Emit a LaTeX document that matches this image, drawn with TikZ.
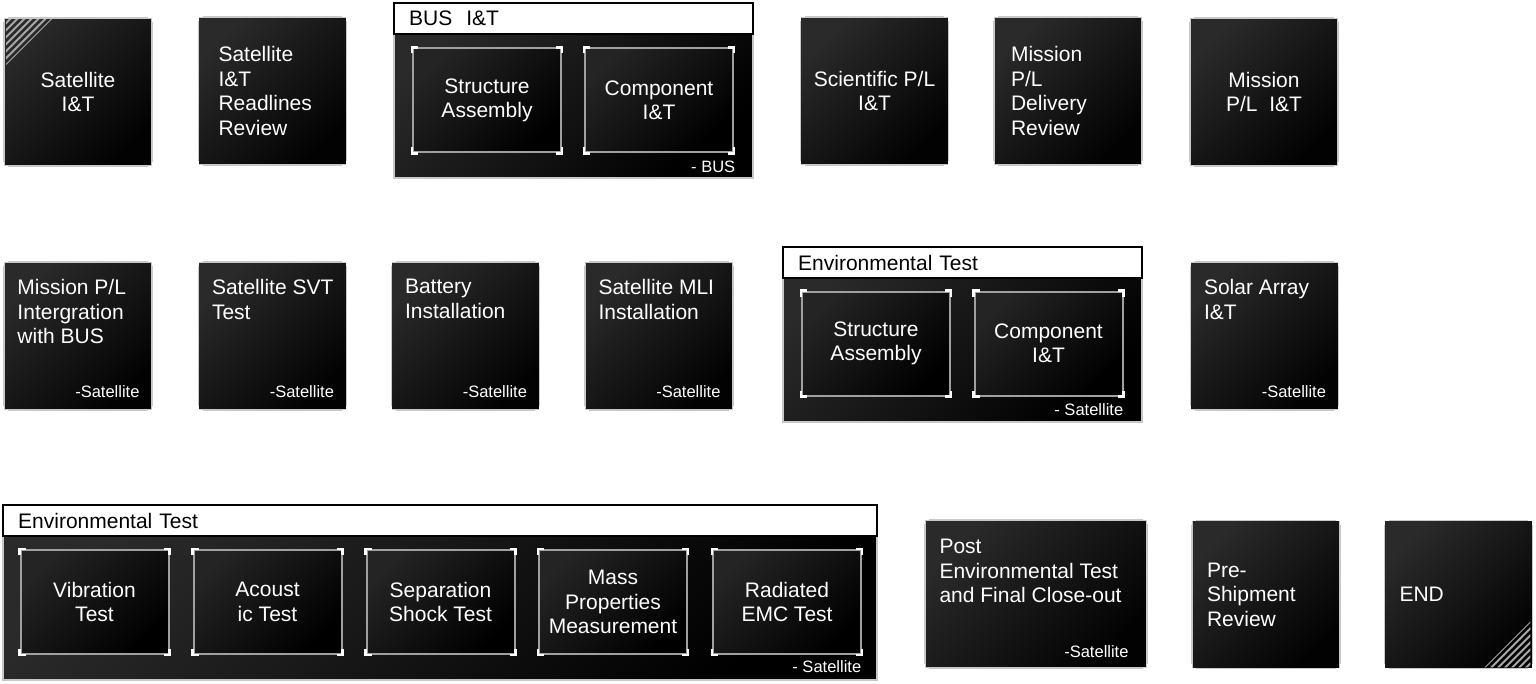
\documentclass[tikz,border=0pt]{standalone}
\usepackage{fontspec}
\setmainfont{Liberation Sans}
\usepackage{xcolor}
\usepackage{tikz}
\definecolor{tiletop}{HTML}{2A2A2A}
\definecolor{tilebot}{HTML}{020202}
\definecolor{rimgray}{HTML}{C8C8C8}
\definecolor{boxrim}{HTML}{A0A0A0}
\definecolor{stripegray}{HTML}{A8A8A8}
\newcommand{\tilefont}{\fontsize{10.5}{12.25}\selectfont}
\newcommand{\notefont}{\fontsize{8.25}{10}\selectfont}
\newcommand{\brackets}[3]{%
  \draw[white,line width=#3] ([yshift=-#2]#1.north west) -- (#1.north west) -- ([xshift=#2]#1.north west);
  \draw[white,line width=#3] ([xshift=-#2]#1.north east) -- (#1.north east) -- ([yshift=-#2]#1.north east);
  \draw[white,line width=#3] ([yshift=#2]#1.south west) -- (#1.south west) -- ([xshift=#2]#1.south west);
  \draw[white,line width=#3] ([xshift=-#2]#1.south east) -- (#1.south east) -- ([yshift=#2]#1.south east);}

\begin{document}
\begin{tikzpicture}[x=0.5pt,y=-0.5pt,
  tile/.style={draw=rimgray,line width=0.9pt,top color=tiletop,bottom color=tilebot,shading angle=45,
    minimum width=74pt,minimum height=74pt,inner sep=0pt,text=white,font=\tilefont,align=center},
  inbox/.style={tile,draw=boxrim,line width=1pt,minimum height=52pt,
    top color=black!86!white,bottom color=black,shading angle=45},
  group/.style={draw=rimgray,line width=0.6pt,top color=tiletop,bottom color=black,shading angle=45,
    minimum width=179.5pt,minimum height=87.5pt,inner sep=0pt},
  head/.style={draw=black,fill=white,line width=0.8pt,anchor=north west,minimum height=15.5pt,
    inner xsep=7.5pt,inner ysep=0pt,align=left,text width=164.5pt,font=\tilefont},
  toptext/.style={anchor=north west,inner sep=0pt,align=left,text=white,font=\tilefont},
  note/.style={anchor=base east,inner sep=0pt,text=white,font=\notefont}]
  \useasboundingbox (0,0) rectangle (1536,684);

  \node[tile] (sat) at (78,92) {Satellite\\I\&T};
  \node[tile,inner xsep=10pt,text width=54pt,align=left] (ready) at (272.5,91) {Satellite\\I\&T\\Readlines\\Review};
  \node[group] (busgrp) at (573.5,90.5) {};
  \node[head] (bushead) at (busgrp.north west) {BUS\ \ I\&T};
  \node[inbox] (busstr) at (487,100.5) {Structure\\Assembly};
  \node[inbox] (buscomp) at (659,100.5) {Component\\I\&T};
  \node[note] (busnote) at ([shift={(-18,-6)}]busgrp.south east) {- BUS};
  \node[tile] (sci) at (874.5,91) {Scientific P/L\\I\&T};
  \node[tile,inner xsep=8.5pt,text width=57pt,align=left] (deliv) at (1068,91) {Mission\\P/L\\Delivery\\Review};
  \node[tile] (mpit) at (1264,92) {Mission\\P/L\ \ I\&T};

  \node[tile] (integ) at (78,336) {};
  \node[toptext] (integtxt) at ([shift={(14,18)}]integ.north west) {Mission P/L\\Intergration\\with BUS};
  \node[note] (integnote) at ([shift={(-13,-13)}]integ.south east) {-Satellite};
  \node[tile] (svt) at (272.5,336) {};
  \node[toptext] (svttxt) at ([shift={(14,18)}]svt.north west) {Satellite SVT\\Test};
  \node[note] (svtnote) at ([shift={(-13,-13)}]svt.south east) {-Satellite};
  \node[tile] (batt) at (465.5,336) {};
  \node[toptext] (batttxt) at ([shift={(14,18)}]batt.north west) {Battery\\Installation};
  \node[note] (battnote) at ([shift={(-13,-13)}]batt.south east) {-Satellite};
  \node[tile] (mli) at (659,336) {};
  \node[toptext] (mlitxt) at ([shift={(14,18)}]mli.north west) {Satellite MLI\\Installation};
  \node[note] (mlinote) at ([shift={(-13,-13)}]mli.south east) {-Satellite};
  \node[group] (envgrp) at (962.5,334.5) {};
  \node[head] (envhead) at (envgrp.north west) {Environmental Test};
  \node[inbox] (envstr) at (876,343.5) {Structure\\Assembly};
  \node[inbox] (envcomp) at (1048.5,343.5) {Component\\I\&T};
  \node[note] (envnote) at ([shift={(-19,-7)}]envgrp.south east) {- Satellite};
  \node[tile] (solar) at (1264.5,336) {};
  \node[toptext] (solartxt) at ([shift={(14,18)}]solar.north west) {Solar Array\\I\&T};
  \node[note] (solarnote) at ([shift={(-13,-13)}]solar.south east) {-Satellite};

  \node[group,minimum width=437pt] (testgrp) at (440,592.5) {};
  \node[head,text width=422pt] (testhead) at (testgrp.north west) {Environmental Test};
  \node[inbox] (vib) at (94.5,602) {Vibration\\Test};
  \node[inbox] (acou) at (267.5,602) {Acoust\\ic Test};
  \node[inbox] (sep) at (440.5,602) {Separation\\Shock Test};
  \node[inbox] (mass) at (613,602) {Mass\\Properties\\Measurement};
  \node[inbox] (emc) at (787,602) {Radiated\\EMC Test};
  \node[note] (testnote) at ([shift={(-16,-8)}]testgrp.south east) {- Satellite};
  \node[tile,minimum width=111pt] (post) at (1036,594) {};
  \node[toptext] (posttxt) at ([shift={(15,20)}]post.north west) {Post\\Environmental Test\\and Final Close-out};
  \node[note] (postnote) at ([shift={(-19,-11)}]post.south east) {-Satellite};
  \node[tile,inner xsep=7.5pt,text width=59pt,align=left] (pre) at (1266,594.5) {Pre-\\Shipment\\Review};
  \node[tile,inner xsep=7.5pt,text width=59pt,align=left] (fin) at (1458.5,594.5) {END};

  \begin{scope}
    \clip ([shift={(3,2)}]sat.north west) -- ++(46,0) -- ++(-46,46) -- cycle;
    \foreach \c in {9,16,...,54}
      \draw[stripegray,line width=1pt] ([shift={(\c-60,60)}]sat.north west) -- ([shift={(\c,0)}]sat.north west);
  \end{scope}
  \begin{scope}
    \clip ([shift={(-3,-2)}]fin.south east) -- ++(-46,0) -- ++(46,-46) -- cycle;
    \foreach \c in {-9,-16,...,-54}
      \draw[stripegray,line width=1pt] ([shift={(\c,0)}]fin.south east) -- ([shift={(\c+60,-60)}]fin.south east);
  \end{scope}

  \foreach \n in {sat,ready,sci,deliv,mpit,integ,svt,batt,mli,solar,post,pre,fin}
    {\brackets{\n}{2.5pt}{1pt}}
  \foreach \n in {busstr,buscomp,envstr,envcomp,vib,acou,sep,mass,emc}
    {\brackets{\n}{3pt}{1.4pt}}
\end{tikzpicture}
\end{document}
